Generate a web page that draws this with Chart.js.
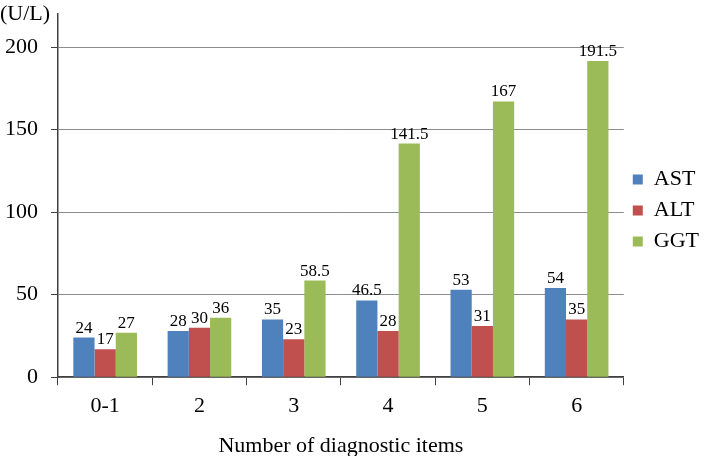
<!DOCTYPE html>
<html>
<head>
<meta charset="utf-8">
<script src="https://cdn.jsdelivr.net/npm/chart.js@4.4.1/dist/chart.umd.min.js"></script>
<style>
  body { margin: 0; background: #fff; }
</style>
</head>
<body>
<canvas id="myChartBar" width="709" height="456"></canvas>
<script>
var categorias = ['0-1', '2', '3', '4', '5', '6'];
var ast = [24, 28, 35, 46.5, 53, 54];
var alt = [17, 30, 23, 28, 31, 35];
var ggt = [27, 36, 58.5, 141.5, 167, 191.5];

var serif = "'Liberation Serif', 'Times New Roman', serif";

// etiquetas de valor encima de cada barra
var valueLabels = {
    id: 'valueLabels',
    afterDatasetsDraw: function (chart) {
        var ctx = chart.ctx;
        ctx.save();
        ctx.font = '17px ' + serif;
        ctx.fillStyle = '#000';
        ctx.textAlign = 'center';
        ctx.textBaseline = 'bottom';
        chart.data.datasets.forEach(function (ds, i) {
            chart.getDatasetMeta(i).data.forEach(function (bar, j) {
                ctx.fillText(ds.data[j], bar.x, bar.y - 1);
            });
        });
        ctx.font = '22px ' + serif;
        ctx.textAlign = 'left';
        ctx.textBaseline = 'middle';
        ctx.fillText('(U/L)', 0, 14);
        ctx.restore();
    }
};

var ctx = document.getElementById('myChartBar').getContext('2d');

var chartData = {
    labels: categorias,
    datasets: [
        { label: 'AST', data: ast, backgroundColor: '#4F81BD' },
        { label: 'ALT', data: alt, backgroundColor: '#C0504D' },
        { label: 'GGT', data: ggt, backgroundColor: '#9BBB59' }
    ]
};

var options = {
    responsive: false,
    animation: false,
    layout: { padding: { top: 14, bottom: -3, left: 0, right: 0 } },
    datasets: {
        bar: { barPercentage: 1, categoryPercentage: 0.675 }
    },
    plugins: {
        legend: {
            position: 'right',
            fullSize: false,
            title: { display: true, text: '', font: { size: 10 }, padding: { top: 9, bottom: 9 } },
            labels: {
                boxWidth: 10,
                boxHeight: 10,
                padding: 9,
                color: '#000',
                font: { family: serif, size: 22 }
            }
        },
        tooltip: { enabled: false }
    },
    scales: {
        x: {
            grid: {
                offset: true,
                drawOnChartArea: false,
                drawTicks: true,
                tickLength: 8,
                tickColor: '#404040'
            },
            border: { color: '#404040', width: 1.5 },
            ticks: {
                color: '#000',
                padding: 8,
                font: { family: serif, size: 22 }
            },
            title: {
                display: true,
                text: 'Number of diagnostic items',
                color: '#000',
                padding: { top: 5, bottom: 0 },
                font: { family: serif, size: 22 }
            }
        },
        y: {
            min: 0,
            max: 220,
            afterBuildTicks: function (scale) {
                scale.ticks = [0, 50, 100, 150, 200, 220].map(function (v) { return { value: v }; });
            },
            afterFit: function (scale) {
                scale.width = 58;
                scale.paddingTop = 0;
            },
            grid: {
                color: function (c) { return c.tick && c.tick.value === 220 ? 'rgba(0,0,0,0)' : '#8c8c8c'; },
                tickColor: function (c) { return c.tick && c.tick.value === 220 ? 'rgba(0,0,0,0)' : '#404040'; },
                tickLength: 7
            },
            border: { color: '#404040', width: 1.5 },
            ticks: {
                color: '#000',
                padding: 13,
                font: { family: serif, size: 22 },
                callback: function (v) { return v === 220 ? '' : v; }
            }
        }
    }
};

var myChart = new Chart(ctx, {
    type: 'bar',
    data: chartData,
    options: options,
    plugins: [valueLabels]
});
</script>
</body>
</html>
